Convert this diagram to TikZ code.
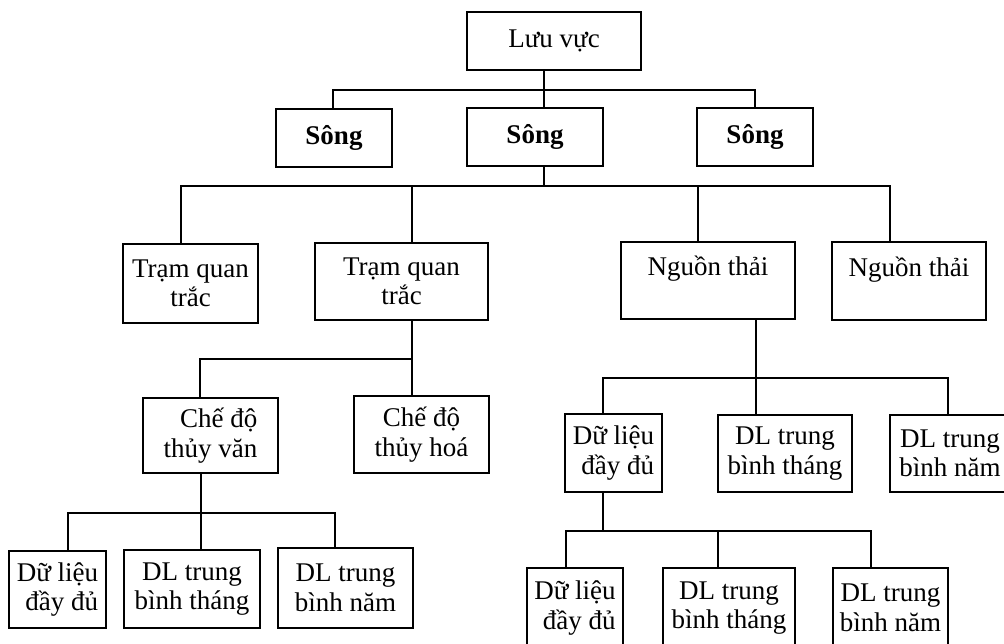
\documentclass[tikz,border=0pt]{standalone}
\usepackage{fontspec}
\setmainfont{Liberation Serif}
\begin{document}
\begin{tikzpicture}[x=1pt,y=-1pt,
  box/.style={draw,line width=1.8pt,inner sep=0pt,align=center,
    font=\fontsize{27}{29.5}\selectfont},
  head/.style={box,font=\fontsize{27}{29.5}\selectfont\bfseries},
  link/.style={line width=1.8pt}]
\useasboundingbox (0,0) rectangle (1004,644);
\clip (0,0) rectangle (1004,644);
\fill[white] (0,0) rectangle (1004,644);
% level 0
\node[box,minimum width=174,minimum height=58] (luu) at (554,41) {Lưu vực};
% level 1
\node[head,minimum width=116,minimum height=58] (s1) at (334,138) {Sông};
\node[head,minimum width=136,minimum height=58] (s2) at (535,137) {Sông};
\node[head,minimum width=116,minimum height=58] (s3) at (755,137) {Sông};
% level 2
\node[box,minimum width=135,minimum height=79] (t1) at (190.5,283.5) {Trạm quan\\trắc};
\node[box,minimum width=173,minimum height=77] (t2) at (401.5,281.5) {Trạm quan\\trắc};
\node[box,minimum width=174,minimum height=77] (n1) at (708,280.5) {Nguồn thải\\\mbox{}};
\node[box,minimum width=154,minimum height=78] (n2) at (909,281) {Nguồn thải\\\mbox{}};
% level 3 (left)
\node[box,align=right,minimum width=135,minimum height=75] (c1) at (210.5,435.5) {Chế độ\\thủy văn};
\node[box,minimum width=135,minimum height=77] (c2) at (421.5,434.5) {Chế độ\\thủy hoá};
% level 3 (right)
\node[box,align=right,minimum width=97,minimum height=78] (b1) at (613.5,453) {Dữ liệu\\đầy đủ};
\node[box,minimum width=134,minimum height=77] (b2) at (785,453.5) {DL trung\\bình tháng};
\node[box,minimum width=120,minimum height=77] (b3) at (950,453.5) {DL trung\\bình năm};
% level 4 (left)
\node[box,align=right,minimum width=97,minimum height=77] (a1) at (57.5,589.5) {Dữ liệu\\đầy đủ};
\node[box,minimum width=136,minimum height=78] (a2) at (192,589) {DL trung\\bình tháng};
\node[box,minimum width=135,minimum height=80] (a3) at (345.5,588) {DL trung\\bình năm};
% level 4 (right)
\node[box,align=right,minimum width=96,minimum height=80] (d1) at (575,608) {Dữ liệu\\đầy đủ};
\node[box,minimum width=132,minimum height=80] (d2) at (729,608) {DL trung\\bình tháng};
\node[box,minimum width=115,minimum height=80] (d3) at (890.5,608) {DL trung\\bình năm};
% connectors
\foreach \c/\d in {s1/-1,s2/9,s3/0}
  \draw[link] ([xshift=-10]luu.south) -- ++(0,19) -| ([xshift=\d]\c.north);
\foreach \c/\d in {t1/-9.5,t2/10.5,n1/-10,n2/-19}
  \draw[link] ([xshift=9]s2.south) -- ++(0,19) -| ([xshift=\d]\c.north);
\foreach \c/\d in {c1/-10.5,c2/-9.5}
  \draw[link] ([xshift=10.5]t2.south) -- ++(0,38) -| ([xshift=\d]\c.north);
\foreach \c/\d in {a1/10.5,a2/9,a3/-10.5}
  \draw[link] ([xshift=-9.5]c1.south) -- ++(0,39) -| ([xshift=\d]\c.north);
\foreach \c/\d in {b1/-10.5,b2/-29,b3/-2}
  \draw[link] ([xshift=48]n1.south) -- ++(0,58) -| ([xshift=\d]\c.north);
\foreach \c/\d in {d1/-9,d2/-11,d3/-19.5}
  \draw[link] ([xshift=-10.5]b1.south) -- ++(0,38) -| ([xshift=\d]\c.north);
\end{tikzpicture}
\end{document}
